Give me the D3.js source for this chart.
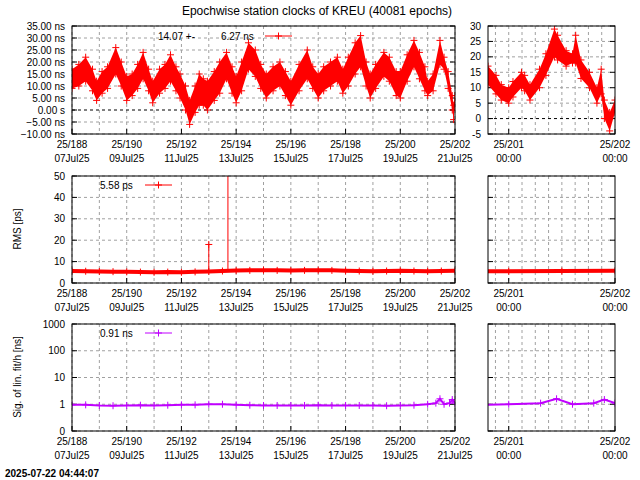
<!DOCTYPE html>
<html><head><meta charset="utf-8">
<script src="https://cdn.jsdelivr.net/npm/d3@7"></script>
<style>body{margin:0;background:#fff}text{font-family:"Liberation Sans",Arial,sans-serif;font-size:10px}</style>
</head><body>
<svg id="c" width="640" height="480"></svg>
<script>
// ---- data ----
const clockDays = [188.0,188.25,188.5,188.75,188.9,189.1,189.3,189.6,189.8,190.0,190.2,190.4,190.6,190.8,190.95,191.2,191.4,191.6,191.8,191.95,192.15,192.3,192.5,192.65,192.8,192.95,193.2,193.4,193.65,193.85,194.0,194.2,194.45,194.7,194.9,195.1,195.35,195.6,195.8,196.0,196.3,196.6,196.8,197.0,197.2,197.45,197.7,197.9,198.1,198.35,198.55,198.75,198.9,199.1,199.4,199.6,199.85,200.0,200.25,200.5,200.7,200.9,201.0,201.2,201.45,201.6,201.75,201.9,201.95,202.0];
const clockLo = [9,10,12,8,4,7,9,15,10,4,6,9,13,8,3,7,9,12,8,5,0,-6,-1,2,2,0,4,7,13,7,3,8,17,14,9,5,8,10,6,2,8,13,9,5,8,10,12,7,10,15,18,10,5,9,14,12,6,5,12,18,13,8,6,8,19,17,9,0,-4,2];
const clockHi = [17,19,22,17,12,16,18,26,20,14,15,19,24,17,12,17,19,23,18,15,10,4,10,15,13,12,16,20,24,18,14,20,28,25,19,15,18,20,16,12,19,25,18,15,18,20,22,17,22,28,31,20,15,19,24,22,16,16,23,29,24,18,12,15,29,22,16,6,2,6];
const zoomDays = [200.805,200.88,200.93,201.0,201.04,201.12,201.15,201.2,201.29,201.35,201.43,201.46,201.54,201.6,201.63,201.68,201.76,201.83,201.87,201.9,201.95,202.0];
const zoomLo = [11,8,6,5,7,10,9,6,10,14,20,19,17,18,18,13,10,5,8,0,-4,2];
const zoomHi = [17,14,11,10,12,15,14,11,16,21,29,27,22,21,27,19,15,10,16,6,2,6];
const rmsDays = [188,188.5,189,189.5,190,190.5,191,191.5,192,192.5,193,193.5,194,194.5,195,195.5,196,196.5,197,197.5,198,198.5,199,199.5,200,200.5,201,201.5,202];
const rmsVals = [5.6,5.5,5.4,5.3,5.2,5.1,5.0,5.1,5.0,5.2,5.4,5.6,5.8,5.9,6.0,5.9,5.8,5.9,6.0,5.9,5.7,5.6,5.5,5.6,5.7,5.6,5.5,5.6,5.7];
const rmsSpikeDays = [193.0,193.7];
const rmsSpikeVals = [18,60];
const sigDays = [188,188.5,189,189.5,190,190.5,191,191.5,192,192.5,193,193.5,194,194.5,195,195.5,196,196.5,197,197.5,198,198.5,199,199.5,200,200.5,201,201.3,201.45,201.6,201.8,201.9,202];
const sigVals = [0.95,0.95,0.9,0.88,0.9,0.92,0.9,0.92,0.95,0.95,1.0,1.0,0.95,0.92,0.9,0.9,0.9,0.9,0.92,0.9,0.9,0.9,0.9,0.88,0.9,0.92,1.0,1.1,1.6,1.0,1.1,1.5,1.1];
const topTicks = [-10,-5,0,5,10,15,20,25,30,35];
const zoomTicks = [-5,0,5,10,15,20,25,30];
const rmsTicks = [0,10,20,30,40,50];
const sigTicks = [0.1,1,10,100,1000];
const dayTicks = [188,190,192,194,196,198,200,202];
const dayDates = ["07Jul25","09Jul25","11Jul25","13Jul25","15Jul25","17Jul25","19Jul25","21Jul25"];

const svg = d3.select("#c");
const RED="#ff0000", PUR="#c000ff";
svg.append("text").attr("x",317).attr("y",15).attr("text-anchor","middle").style("font-size","12px").text("Epochwise station clocks of KREU (40081 epochs)");
svg.append("text").attr("x",5).attr("y",477).style("font-weight","bold").text("2025-07-22 04:44:07");

let cid=0;
function panel(x0,x1,y0,y1,xd,ys,gridX,labelsX,yTicks,yFmt,zeroLine){
  const x=d3.scaleLinear().domain(xd).range([x0,x1]);
  const y=ys.range([y1,y0]);
  const g=svg.append("g");
  gridX.forEach(d=>g.append("line").attr("x1",x(d)).attr("x2",x(d)).attr("y1",y0).attr("y2",y1).attr("stroke","#a0a0a0").attr("stroke-dasharray","3,3"));
  yTicks.forEach(v=>{
    g.append("line").attr("x1",x0).attr("x2",x1).attr("y1",y(v)).attr("y2",y(v)).attr("stroke",(zeroLine&&v===0)?"#000":"#a0a0a0").attr("stroke-dasharray","3,3");
    g.append("line").attr("x1",x0).attr("x2",x0+5).attr("y1",y(v)).attr("y2",y(v)).attr("stroke","#000");
    g.append("line").attr("x1",x1).attr("x2",x1-5).attr("y1",y(v)).attr("y2",y(v)).attr("stroke","#000");
    if(yFmt) g.append("text").attr("x",x0-7).attr("y",y(v)+3.5).attr("text-anchor","end").text(yFmt(v));
  });
  labelsX.forEach(l=>{
    g.append("line").attr("x1",x(l.d)).attr("x2",x(l.d)).attr("y1",y1).attr("y2",y1-5).attr("stroke","#000");
    g.append("text").attr("x",x(l.d)).attr("y",y1+14).attr("text-anchor","middle").text(l.a);
    g.append("text").attr("x",x(l.d)).attr("y",y1+28).attr("text-anchor","middle").text(l.b);
  });
  const id="cl"+(cid++);
  svg.append("clipPath").attr("id",id).append("rect").attr("x",x0).attr("y",y0).attr("width",x1-x0).attr("height",y1-y0);
  const data=svg.append("g").attr("clip-path",`url(#${id})`);
  const frame=()=>svg.append("rect").attr("x",x0).attr("y",y0).attr("width",x1-x0).attr("height",y1-y0).attr("fill","none").attr("stroke","#000");
  return {x,y,data,frame};
}
const plus=(g,px,py,c)=>g.append("path").attr("d",`M${px-3.5},${py}H${px+3.5}M${px},${py-3.5}V${py+3.5}`).attr("stroke",c);
function band(p,days,lo,hi,c){
  p.data.append("path").attr("d",d3.area().x((d,i)=>p.x(days[i])).y0((d,i)=>p.y(lo[i])).y1((d,i)=>p.y(hi[i]))(days)).attr("fill",c);
  days.forEach((d,i)=>{plus(p.data,p.x(d),p.y(lo[i]),c);plus(p.data,p.x(d),p.y(hi[i]),c);});
}
function series(p,days,vals,c,w){
  p.data.append("path").attr("d",d3.line().x((d,i)=>p.x(days[i])).y((d,i)=>p.y(vals[i]))(days)).attr("fill","none").attr("stroke",c).attr("stroke-width",w);
  days.forEach((d,i)=>plus(p.data,p.x(d),p.y(vals[i]),c));
}
const allDays=d3.range(188,203);
const leftLabels=dayTicks.map((d,i)=>({d,a:"25/"+d,b:dayDates[i]}));
const zoomGrid=d3.range(0,10).map(i=>200.805+0.0645+i*0.125).filter(d=>d<202);
const rightLabels=[{d:201,a:"25/201",b:"00:00"},{d:202,a:"25/202",b:"00:00"}];
const rightGrid=d3.range(200.875,202.0,0.125);
const nsFmt=v=>v===0?"0.00  s":d3.format(".2f")(v)+" ns";

// top
let p=panel(72,455,26,134,[188,202],d3.scaleLinear().domain([-10,35]),allDays,leftLabels,topTicks,nsFmt,true);
band(p,clockDays,clockLo,clockHi,RED); p.frame();
svg.append("text").attr("x",158).attr("y",40).text("14.07 +-");
svg.append("text").attr("x",221).attr("y",40).text("6.27 ns");
svg.append("line").attr("x1",265).attr("x2",292).attr("y1",36).attr("y2",36).attr("stroke",RED);
plus(svg,278.5,36,RED);
p=panel(488,615,26,134,[200.805,202.0],d3.scaleLinear().domain([-5,30]),rightGrid,rightLabels,zoomTicks,v=>v,true);
band(p,zoomDays,zoomLo,zoomHi,RED); p.frame();
// middle
p=panel(72,455,176,283,[188,202],d3.scaleLinear().domain([0,50]),allDays,leftLabels,rmsTicks,v=>v,false);
series(p,rmsDays,rmsVals,RED,4);
rmsSpikeDays.forEach((d,i)=>p.data.append("line").attr("x1",p.x(d)).attr("x2",p.x(d)).attr("y1",p.y(5.5)).attr("y2",p.y(rmsSpikeVals[i])).attr("stroke",RED));
plus(p.data,p.x(193.0),p.y(18),RED);
p.frame();
svg.append("text").attr("x",100).attr("y",189).text("5.58 ps");
svg.append("line").attr("x1",145).attr("x2",172).attr("y1",185).attr("y2",185).attr("stroke",RED);
plus(svg,158.5,185,RED);
p=panel(488,615,176,283,[200.805,202.0],d3.scaleLinear().domain([0,50]),rightGrid,rightLabels,rmsTicks,null,false);
series(p,rmsDays,rmsVals,RED,4); p.frame();
// bottom
const sigFmt=v=>v<1?"0":String(v);
p=panel(72,455,324,431,[188,202],d3.scaleLog().domain([0.1,1000]),allDays,leftLabels,sigTicks,sigFmt,false);
series(p,sigDays,sigVals,PUR,2); p.frame();
svg.append("text").attr("x",100).attr("y",337).text("0.91 ns");
svg.append("line").attr("x1",145).attr("x2",172).attr("y1",333).attr("y2",333).attr("stroke",PUR);
plus(svg,158.5,333,PUR);
p=panel(488,615,324,431,[200.805,202.0],d3.scaleLog().domain([0.1,1000]),rightGrid,rightLabels,sigTicks,null,false);
series(p,sigDays,sigVals,PUR,2); p.frame();
// y labels
svg.append("text").attr("transform","translate(21,229) rotate(-90)").attr("text-anchor","middle").text("RMS [ps]");
svg.append("text").attr("transform","translate(21,377) rotate(-90)").attr("text-anchor","middle").text("Sig. of lin. fit/h [ns]");
</script>
</body></html>
